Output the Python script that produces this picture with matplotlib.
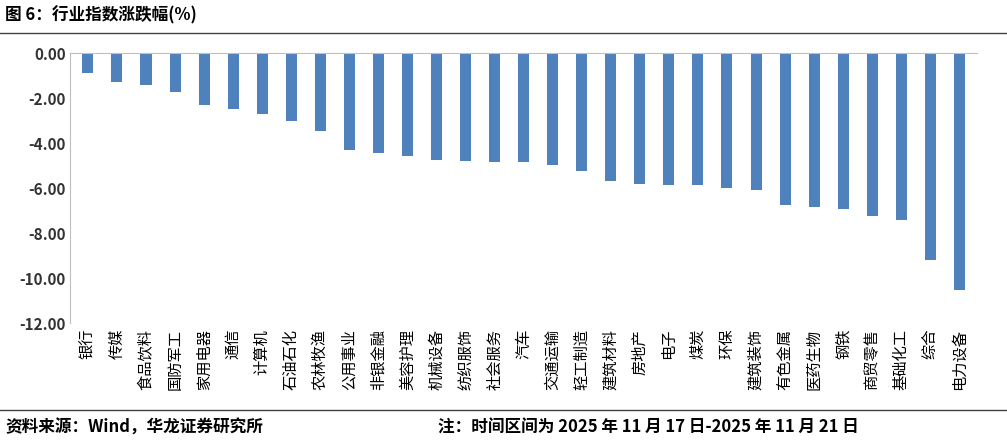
import matplotlib.pyplot as plt
import numpy as np

plt.rcParams['font.family'] = ['Noto Sans CJK SC', 'DejaVu Sans']

industries = ['银行', '传媒', '食品饮料', '国防军工', '家用电器', '通信', '计算机', '石油石化',
              '农林牧渔', '公用事业', '非银金融', '美容护理', '机械设备', '纺织服饰', '社会服务',
              '汽车', '交通运输', '轻工制造', '建筑材料', '房地产', '电子', '煤炭', '环保',
              '建筑装饰', '有色金属', '医药生物', '钢铁', '商贸零售', '基础化工', '综合', '电力设备']
changes = [-0.90, -1.28, -1.43, -1.74, -2.28, -2.50, -2.72, -3.00, -3.44, -4.29, -4.42, -4.55,
           -4.73, -4.78, -4.82, -4.85, -4.96, -5.22, -5.67, -5.80, -5.85, -5.87, -6.00, -6.08,
           -6.74, -6.83, -6.92, -7.23, -7.41, -9.20, -10.50]
yticks = [0, -2, -4, -6, -8, -10, -12]

fig = plt.figure(figsize=(10.07, 4.43), dpi=100)
ax = fig.add_axes([0.07, 0.27, 0.90, 0.61])

x = np.arange(len(industries))
ax.bar(x, changes, width=0.38, color='#4F81BD')
ax.set_ylim(-12, 0)
ax.set_xlim(-0.6, len(industries) - 0.4)
ax.set_yticks(yticks)
ax.set_yticklabels([f'{v:.2f}' for v in yticks], fontsize=11, fontweight='bold', color='#333333')
ax.set_xticks(x)
ax.set_xticklabels(industries, rotation=90, fontsize=11)
ax.tick_params(axis='x', length=0, pad=4)
ax.tick_params(axis='y', length=0)
for s in ['right', 'bottom']:
    ax.spines[s].set_visible(False)
ax.spines['left'].set_color('#BFBFBF')
ax.spines['top'].set_color('#BFBFBF')

fig.text(0.005, 0.965, '图 6：行业指数涨跌幅(%)', fontsize=12, fontweight='bold', va='center')
fig.add_artist(plt.Line2D([0, 1], [0.925, 0.925], color='#404040', lw=1))
fig.add_artist(plt.Line2D([0, 1], [0.075, 0.075], color='#404040', lw=1))
fig.text(0.005, 0.035, '资料来源：Wind，华龙证券研究所', fontsize=12, fontweight='bold', va='center')
fig.text(0.435, 0.035, '注：时间区间为 2025 年 11 月 17 日-2025 年 11 月 21 日', fontsize=12,
         fontweight='bold', va='center')

plt.savefig('out.png', dpi=100)
